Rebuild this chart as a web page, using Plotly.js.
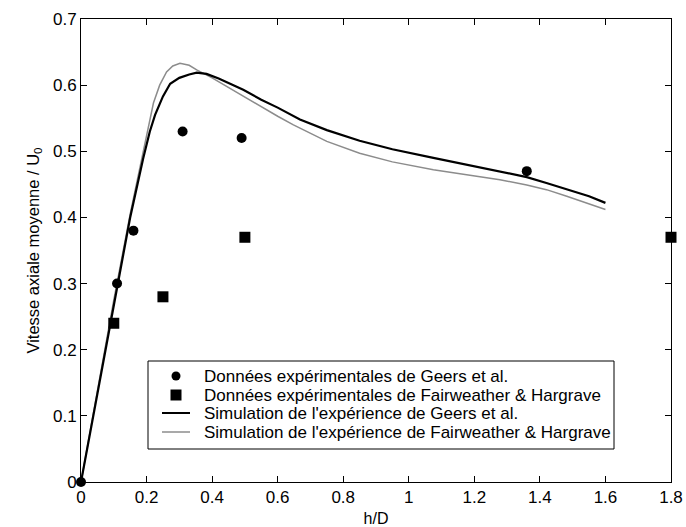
<!DOCTYPE html>
<html><head><meta charset="utf-8">
<script src="https://cdn.plot.ly/plotly-3.0.1.min.js"></script>
<style>html,body{margin:0;padding:0;background:#fff}</style>
</head><body><div id="chart" style="width:686px;height:527px"></div>
<script>
// Experimental data
const geersX = [0, 0.11, 0.16, 0.31, 0.49, 1.36];
const geersY = [0, 0.30, 0.38, 0.53, 0.52, 0.47];
const fhX = [0.10, 0.25, 0.50, 1.80];
const fhY = [0.24, 0.28, 0.37, 0.37];
// Simulations
const simGeersX = [0, 0.05, 0.10, 0.15, 0.19, 0.21, 0.226, 0.25, 0.272, 0.30, 0.33, 0.353, 0.383, 0.42, 0.46, 0.495, 0.55, 0.60, 0.668, 0.75, 0.85, 0.95, 1.075, 1.20, 1.278, 1.36, 1.42, 1.482, 1.55, 1.60];
const simGeersY = [0, 0.135, 0.27, 0.40, 0.49, 0.53, 0.555, 0.583, 0.602, 0.611, 0.616, 0.619, 0.617, 0.610, 0.601, 0.593, 0.578, 0.566, 0.548, 0.532, 0.516, 0.503, 0.490, 0.477, 0.469, 0.461, 0.452, 0.442, 0.432, 0.422];
const simFhX = [0, 0.05, 0.10, 0.15, 0.19, 0.221, 0.24, 0.261, 0.28, 0.302, 0.33, 0.353, 0.40, 0.444, 0.50, 0.546, 0.60, 0.648, 0.75, 0.85, 0.95, 1.075, 1.20, 1.278, 1.36, 1.42, 1.482, 1.55, 1.60];
const simFhY = [0, 0.137, 0.275, 0.405, 0.50, 0.573, 0.600, 0.620, 0.629, 0.633, 0.630, 0.623, 0.611, 0.598, 0.582, 0.568, 0.553, 0.540, 0.515, 0.497, 0.484, 0.472, 0.463, 0.457, 0.449, 0.442, 0.432, 0.421, 0.412];
const legendLabels = [
  "Données expérimentales de Geers et al.",
  "Données expérimentales de Fairweather & Hargrave",
  "Simulation de l'expérience de Geers et al.",
  "Simulation de l'expérience de Fairweather & Hargrave"
];
const xTitle = "h/D";
const yTitle = "Vitesse axiale moyenne / U<sub>0</sub>";

const W = 686, H = 527, L = 81, R = 15, T = 19, B = 45;
const pw = W - L - R, ph = H - T - B;
const px = v => (v - L) / pw;
const py = v => (H - B - v) / ph;
const FONT = "Liberation Sans, Arial, sans-serif";

const traces = [
  {x: simFhX, y: simFhY, mode: 'lines', line: {color: '#8c8c8c', width: 1.5}, showlegend: false, name: legendLabels[3]},
  {x: simGeersX, y: simGeersY, mode: 'lines', line: {color: '#000', width: 2.2}, showlegend: false, name: legendLabels[2]},
  {x: geersX, y: geersY, mode: 'markers', marker: {symbol: 'circle', size: 10, color: '#000'}, cliponaxis: false, showlegend: false, name: legendLabels[0]},
  {x: fhX, y: fhY, mode: 'markers', marker: {symbol: 'square', size: 11, color: '#000'}, cliponaxis: false, showlegend: false, name: legendLabels[1]}
];

// custom legend (pixel positions)
const boxL = 148, boxR = 614, boxT = 361, boxB = 449;
const rowsY = [376, 395, 413, 432];
const symX = 176, textX = 202;
const shapes = [
  {type: 'rect', xref: 'paper', yref: 'paper', x0: px(boxL), x1: px(boxR), y0: py(boxB), y1: py(boxT), line: {color: '#000', width: 1}, fillcolor: '#fff', layer: 'above'},
  {type: 'circle', xref: 'paper', yref: 'paper', x0: px(symX - 4.5), x1: px(symX + 4.5), y0: py(rowsY[0] + 4.5), y1: py(rowsY[0] - 4.5), line: {width: 0}, fillcolor: '#000', layer: 'above'},
  {type: 'rect', xref: 'paper', yref: 'paper', x0: px(symX - 5.5), x1: px(symX + 5.5), y0: py(rowsY[1] + 5.5), y1: py(rowsY[1] - 5.5), line: {width: 0}, fillcolor: '#000', layer: 'above'},
  {type: 'line', xref: 'paper', yref: 'paper', x0: px(162), x1: px(190), y0: py(rowsY[2]), y1: py(rowsY[2]), line: {color: '#000', width: 2}, layer: 'above'},
  {type: 'line', xref: 'paper', yref: 'paper', x0: px(162), x1: px(190), y0: py(rowsY[3]), y1: py(rowsY[3]), line: {color: '#8c8c8c', width: 1.5}, layer: 'above'}
];
const annotations = legendLabels.map((t, i) => ({
  text: t, xref: 'paper', yref: 'paper', x: px(textX), y: py(rowsY[i]),
  xanchor: 'left', yanchor: 'middle', showarrow: false,
  font: {family: FONT, size: 17, color: '#000'}
}));

const axisCommon = {
  showgrid: false, zeroline: false, showline: true, linecolor: '#000', linewidth: 1,
  mirror: 'ticks', ticks: 'inside', ticklen: 6, tickcolor: '#000', tickwidth: 1,
  tickfont: {family: FONT, size: 17, color: '#000'}
};

const layout = {
  width: W, height: H,
  margin: {l: L, r: R, t: T, b: B},
  paper_bgcolor: '#fff', plot_bgcolor: '#fff',
  font: {family: FONT, color: '#000'},
  showlegend: false,
  xaxis: Object.assign({}, axisCommon, {range: [0, 1.8], dtick: 0.2, tick0: 0,
    title: {text: xTitle, font: {family: FONT, size: 16, color: '#000'}, standoff: 6}}),
  yaxis: Object.assign({}, axisCommon, {range: [0, 0.7], dtick: 0.1, tick0: 0,
    title: {text: yTitle, font: {family: FONT, size: 16.5, color: '#000'}, standoff: 9}}),
  shapes: shapes,
  annotations: annotations
};

Plotly.newPlot('chart', traces, layout, {staticPlot: true, displayModeBar: false});
</script>
</body></html>
